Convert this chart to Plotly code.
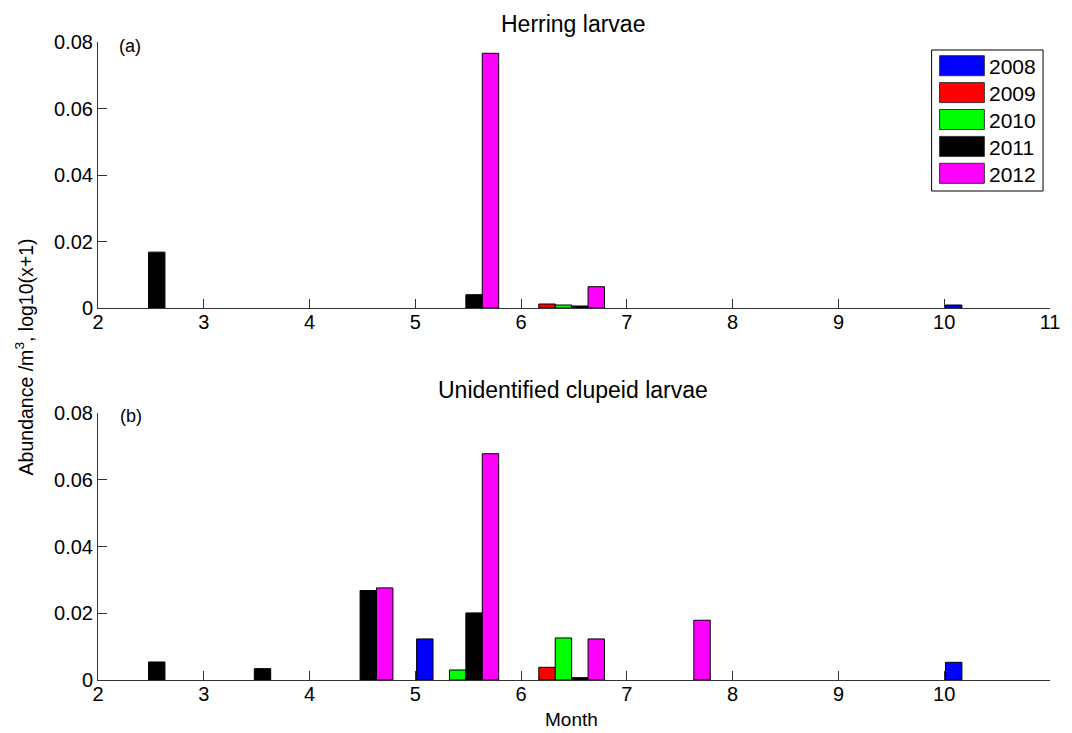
import plotly.graph_objects as go

# ---- data ----
months = [2, 3, 4, 5, 6, 7, 8, 9, 10]
years = ["2008", "2009", "2010", "2011", "2012"]
colors = ["#0000FF", "#FF0000", "#00FF00", "#000000", "#FF00FF"]

# (a) Herring larvae  (None = no bar)
herring_2008 = [None, None, None, None, None, None, None, None, 0.0009]
herring_2009 = [None, None, None, None, 0.0012, None, None, None, None]
herring_2010 = [None, None, None, None, 0.0009, None, None, None, None]
herring_2011 = [0.0168, None, None, 0.0040, 0.0006, None, None, None, None]
herring_2012 = [None, None, None, 0.0766, 0.0064, None, None, None, None]

# (b) Unidentified clupeid larvae
clupeid_2008 = [None, None, None, 0.0123, None, None, None, None, 0.0053]
clupeid_2009 = [None, None, None, None, 0.0038, None, None, None, None]
clupeid_2010 = [None, None, None, 0.0030, 0.0126, None, None, None, None]
clupeid_2011 = [0.0054, 0.0034, 0.0268, 0.0201, 0.0007, None, None, None, None]
clupeid_2012 = [None, None, 0.0276, 0.0678, 0.0123, 0.0179, None, None, None]

herring = [herring_2008, herring_2009, herring_2010, herring_2011, herring_2012]
clupeid = [clupeid_2008, clupeid_2009, clupeid_2010, clupeid_2011, clupeid_2012]

x_ticks_a = [2, 3, 4, 5, 6, 7, 8, 9, 10, 11]
x_ticks_b = [2, 3, 4, 5, 6, 7, 8, 9, 10]
y_ticks = [0, 0.02, 0.04, 0.06, 0.08]
y_ticklabels = ["0", "0.02", "0.04", "0.06", "0.08"]

group_x = [m + 0.4 for m in months]

# ---- layout helpers (window pixel -> paper) ----
PL, PR, PT, PB = 98, 1055, 42, 680


def px(X):
    return (X - PL) / (PR - PL)


def py(Y):
    return (PB - Y) / (PB - PT)


fig = go.Figure()
for i, yr in enumerate(years):
    fig.add_trace(go.Bar(x=group_x, y=herring[i], name=yr, marker_color=colors[i],
                         marker_line=dict(color="black", width=1),
                         xaxis="x", yaxis="y", offsetgroup=yr, showlegend=False))
for i, yr in enumerate(years):
    fig.add_trace(go.Bar(x=group_x, y=clupeid[i], name=yr, marker_color=colors[i],
                         marker_line=dict(color="black", width=1),
                         xaxis="x2", yaxis="y2", offsetgroup=yr, showlegend=False))

font = "Liberation Sans, Arial, Helvetica, sans-serif"
axis_common = dict(showgrid=False, zeroline=False, showline=True, linecolor="#333",
                   linewidth=1, ticks="inside", ticklen=9, tickcolor="#333",
                   tickfont=dict(size=20, color="black", family=font))

# page body has an 8px margin: figure is 1064x725 placed at (8, 8)
fig.update_layout(
    width=1064, height=725,
    margin=dict(l=PL - 8, r=1072 - PR, t=PT - 8, b=733 - PB),
    paper_bgcolor="white", plot_bgcolor="white",
    barmode="group", bargap=0.224, bargroupgap=0,
    font=dict(family=font, color="black"),
    xaxis=dict(domain=[0, 1], range=[2, 11], tickvals=x_ticks_a, anchor="y",
               ticklabelstandoff=-4, **axis_common),
    yaxis=dict(domain=[py(308), 1.0], range=[0, 0.08], tickvals=y_ticks,
               ticktext=y_ticklabels, anchor="x", **axis_common),
    xaxis2=dict(domain=[0, 1], range=[2, 11], tickvals=x_ticks_b, anchor="y2",
                ticklabelstandoff=-4, **axis_common),
    yaxis2=dict(domain=[0, py(413)], range=[0, 0.08], tickvals=y_ticks,
                ticktext=y_ticklabels, anchor="x2", **axis_common),
    showlegend=False,
)


def label(text, X, Y, size, xanchor="center", yanchor="middle", angle=0):
    return dict(text=text, x=px(X), y=py(Y), xref="paper", yref="paper",
                xanchor=xanchor, yanchor=yanchor, showarrow=False,
                textangle=angle, font=dict(size=size))


ann = [
    label("Herring larvae", 575.5, 8.5, 23, yanchor="top"),
    label("Unidentified clupeid larvae", 575, 390, 23),
    label("Month", 574, 720, 19),
    label("Abundance /m<sup>3</sup>, log10(x+1)", 24, 357, 19.5, angle=-90),
    label("(a)", 117, 46, 18, xanchor="left"),
    label("(b)", 118, 416, 18, xanchor="left"),
]

# ---- legend (box, colour swatches, year labels) ----
shapes = [dict(type="rect", xref="paper", yref="paper", x0=px(936), x1=px(1048),
               y0=py(191), y1=py(50), line=dict(color="black", width=1),
               fillcolor="white", layer="above")]
for i, yr in enumerate(years):
    cy = 65.7 + 26.9 * i
    shapes.append(dict(type="rect", xref="paper", yref="paper", x0=px(944), x1=px(989),
                       y0=py(cy + 10), y1=py(cy - 10), fillcolor=colors[i],
                       line=dict(color="#333", width=1), layer="above"))
    ann.append(label(yr, 992, cy + 1, 21, xanchor="left"))

fig.update_layout(annotations=ann, shapes=shapes)

fig.write_html("out.html")
